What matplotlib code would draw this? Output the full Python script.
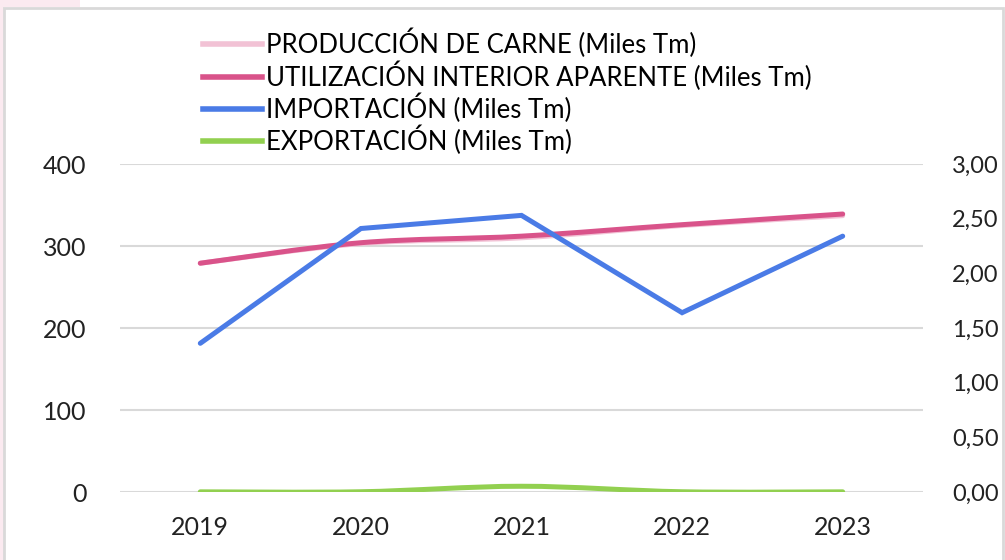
import matplotlib
matplotlib.use("Agg")
import matplotlib.pyplot as plt
from matplotlib.path import Path
from matplotlib.patches import PathPatch, Rectangle
from matplotlib.lines import Line2D
from matplotlib.ticker import FuncFormatter
import numpy as np

years = ["2019", "2020", "2021", "2022", "2023"]
produccion = [279, 303, 310, 325, 337]
utilizacion = [279, 304, 312, 326, 339]
importacion = [1.36, 2.41, 2.53, 1.64, 2.34]
exportacion = [0.2, 0.3, 7.0, 0.3, 0.2]

labels = ["PRODUCCIÓN DE CARNE (Miles Tm)",
          "UTILIZACIÓN INTERIOR APARENTE (Miles Tm)",
          "IMPORTACIÓN (Miles Tm)",
          "EXPORTACIÓN (Miles Tm)"]
colors = ["#F2C2D5", "#D9538A", "#4A7BE6", "#92D050"]

plt.rcParams['font.family'] = ['Lato', 'DejaVu Sans']

fig = plt.figure(figsize=(10.05, 5.6), dpi=100)
fig.patch.set_facecolor("white")
fig.patches.append(Rectangle((0, 0), 4/1005, 1, transform=fig.transFigure,
                             facecolor="#FBEAF0", edgecolor="none", zorder=-6))
fig.patches.append(Rectangle((0, 1 - 7/560), 80/1005, 7/560, transform=fig.transFigure,
                             facecolor="#FBEAF0", edgecolor="none", zorder=-6))
fig.patches.append(Rectangle((4/1005, -0.01), 999/1005, 552/560 + 0.01, transform=fig.transFigure,
                             facecolor="white", edgecolor="#D9D9D9", linewidth=2, zorder=-5))

ax = fig.add_axes([120/1005, 68/560, 803/1005, 328/560])
ax2 = ax.twinx()
ax.set_facecolor("none")
ax2.set_facecolor("none")
for a in (ax, ax2):
    for s in a.spines.values():
        s.set_visible(False)
    a.tick_params(length=0, labelsize=18, colors="#222222")

x = np.arange(len(years))


def smooth(ax_, xs, ys, color, lw, z):
    pts = np.column_stack([xs, ys]).astype(float)
    n = len(pts)
    verts = [pts[0]]
    codes = [Path.MOVETO]
    for i in range(n - 1):
        p0 = pts[i - 1] if i > 0 else pts[i]
        p1 = pts[i]
        p2 = pts[i + 1]
        p3 = pts[i + 2] if i + 2 < n else pts[i + 1]
        c1 = p1 + (p2 - p0) / 6.0
        c2 = p2 - (p3 - p1) / 6.0
        verts += [c1, c2, p2]
        codes += [Path.CURVE4] * 3
    patch = PathPatch(Path(verts, codes), facecolor="none", edgecolor=color,
                      linewidth=lw, capstyle="round", joinstyle="round", zorder=z)
    ax_.add_patch(patch)


lw = 3.6
smooth(ax, x, produccion, colors[0], lw, 2)
smooth(ax, x, utilizacion, colors[1], lw, 3)
smooth(ax, x, exportacion, colors[3], lw, 3)
ax2.plot(x, importacion, color=colors[2], linewidth=lw, solid_capstyle="round",
         solid_joinstyle="miter", zorder=4)

ax.set_xlim(-0.5, len(years) - 0.5)
ax.set_ylim(0, 400)
ax.set_yticks([0, 100, 200, 300, 400])
ax2.set_ylim(0, 3)
ax2.set_yticks(np.arange(0, 3.01, 0.5))
ax2.yaxis.set_major_formatter(FuncFormatter(lambda v, p: f"{v:.2f}".replace(".", ",")))
ax.set_xticks(x)
ax.set_xticklabels(years)
ax.tick_params(axis="y", pad=24)
ax.tick_params(axis="x", pad=17)
ax2.tick_params(axis="y", pad=21, labelsize=17)
ax.grid(axis="y", color="#D9D9D9", linewidth=1.5)
ax.set_axisbelow(True)

handles = [Line2D([0], [0], color=c, linewidth=4) for c in colors]
fig.legend(handles, labels, loc="upper left", bbox_to_anchor=(203/1005, 1 - 29/560),
           frameon=False, fontsize=18.5, handlelength=2.3, handletextpad=0.15,
           labelspacing=0.1, borderpad=0, borderaxespad=0)

fig.savefig("out.png", dpi=100)
